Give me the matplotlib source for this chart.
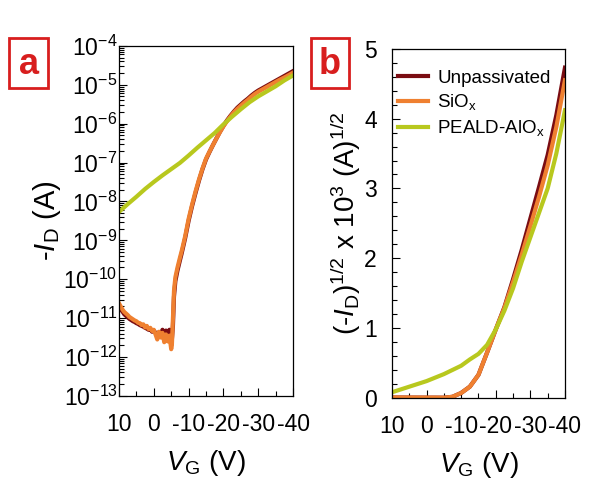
import numpy as np
import matplotlib
matplotlib.use("Agg")
import matplotlib.pyplot as plt
from matplotlib.patches import Rectangle
from matplotlib.ticker import MultipleLocator, LogLocator, NullFormatter

plt.rcParams['font.family'] = ['Liberation Sans', 'DejaVu Sans']
plt.rcParams['mathtext.fontset'] = 'custom'
plt.rcParams['mathtext.rm'] = 'Liberation Sans'
plt.rcParams['mathtext.it'] = 'Liberation Sans:italic'
plt.rcParams['axes.unicode_minus'] = False

# ---- panel a: transfer curves, log10(-I_D) vs V_G ----
vg_aloxa = [10, 7.5, 5, 2.5, 0, -2.5, -5, -7.5, -10, -12.5, -15, -17.5, -20,
            -22.5, -25, -27.5, -30, -32.5, -35, -37.5, -40]
log_alox = [-8.27, -8.07, -7.88, -7.68, -7.50, -7.33, -7.17, -7.01, -6.82, -6.62,
            -6.43, -6.24, -6.02, -5.82, -5.63, -5.45, -5.30, -5.17, -5.04, -4.89, -4.76]

vg_a = [10, 9.5, 9, 8.5, 8, 7.5, 7, 6.5, 6, 5.5, 5, 4.5, 4, 3.5, 3, 2.5, 2, 1.5, 1,
        0.5, 0, -0.5, -1, -1.5, -2, -2.5, -3, -3.5, -4, -4.5, -5, -5.2, -5.5, -5.8,
        -6.2, -6.8, -7.5, -8, -9, -10, -11, -12, -13, -14, -15, -16, -17, -18, -19,
        -20, -21, -22, -23, -24, -25, -26, -27, -28, -29, -30, -32, -34, -36, -38, -40]
log_sio = [-10.62, -10.70, -10.78, -10.84, -10.88, -10.92, -10.97, -11.00, -11.03,
           -11.06, -11.08, -11.12, -11.13, -11.18, -11.16, -11.24, -11.20, -11.28,
           -11.25, -11.33, -11.30, -11.42, -11.55, -11.35, -11.50, -11.38, -11.62,
           -11.42, -11.60, -11.45, -11.80, -11.70, -11.00, -10.30, -9.95, -9.70,
           -9.45, -9.28, -8.90, -8.45, -8.08, -7.74, -7.43, -7.15, -6.90, -6.72,
           -6.55, -6.38, -6.22, -6.07, -5.94, -5.82, -5.71, -5.62, -5.54, -5.46,
           -5.39, -5.31, -5.24, -5.18, -5.08, -4.98, -4.88, -4.79, -4.69]
log_unp = [-10.70, -10.78, -10.83, -10.90, -10.94, -10.98, -11.02, -11.05, -11.08,
           -11.10, -11.13, -11.15, -11.18, -11.20, -11.22, -11.25, -11.27, -11.30,
           -11.28, -11.35, -11.32, -11.38, -11.40, -11.36, -11.42, -11.30, -11.40,
           -11.32, -11.38, -11.30, -11.42, -11.55, -11.20, -10.45, -10.05, -9.78,
           -9.52, -9.34, -8.95, -8.50, -8.12, -7.78, -7.46, -7.17, -6.92, -6.73,
           -6.55, -6.38, -6.21, -6.06, -5.92, -5.80, -5.69, -5.59, -5.51, -5.43,
           -5.36, -5.28, -5.21, -5.15, -5.05, -4.95, -4.85, -4.75, -4.65]

ytick_a = [1e-13, 1e-12, 1e-11, 1e-10, 1e-9, 1e-8, 1e-7, 1e-6, 1e-5, 1e-4]
ytick_a_labels = [r'$10^{-13}$', r'$10^{-12}$', r'$10^{-11}$', r'$10^{-10}$', r'$10^{-9}$',
                  r'$10^{-8}$', r'$10^{-7}$', r'$10^{-6}$', r'$10^{-5}$', r'$10^{-4}$']
xticks = [10, 0, -10, -20, -30, -40]
xtick_labels = ['10', '0', '-10', '-20', '-30', '-40']

# ---- panel b: (-I_D)^1/2 x 10^3 ----
vg_b = [10, 5, 0, -2.5, -5, -7.5, -10, -12.5, -15, -17.5, -20, -22.5, -25, -27.5,
        -30, -32.5, -35, -37.5, -40]
sq_unp = [0.005, 0.004, 0.003, 0.003, 0.002, 0.015, 0.07, 0.16, 0.33, 0.65, 0.98,
          1.30, 1.70, 2.12, 2.57, 3.02, 3.48, 4.05, 4.73]
sq_sio = [0.005, 0.004, 0.003, 0.003, 0.002, 0.015, 0.07, 0.16, 0.33, 0.65, 0.98,
          1.29, 1.66, 2.05, 2.46, 2.88, 3.33, 3.88, 4.55]
vg_b2 = [10, 7.5, 5, 2.5, 0, -2.5, -5, -7.5, -10, -12.5, -15, -17.5, -20, -22.5,
         -25, -27.5, -30, -32.5, -35, -37.5, -40]
sq_alox = [0.08, 0.12, 0.16, 0.20, 0.24, 0.29, 0.34, 0.40, 0.46, 0.55, 0.63, 0.76,
           0.98, 1.25, 1.57, 1.95, 2.30, 2.65, 3.00, 3.50, 4.12]

c_unp = '#7a0c12'
c_sio = '#ef8030'
c_alox = '#b8c81e'
lw = 3

fig = plt.figure(figsize=(5.89, 4.93), dpi=100)
ax1 = fig.add_axes([0.202, 0.197, 0.2955, 0.710])
ax2 = fig.add_axes([0.6655, 0.193, 0.2937, 0.708])

# panel a
ax1.plot(vg_a, 10 ** np.array(log_unp), color=c_unp, lw=lw)
ax1.plot(vg_a, 10 ** np.array(log_sio), color=c_sio, lw=lw)
ax1.plot(vg_aloxa, 10 ** np.array(log_alox), color=c_alox, lw=lw)
ax1.set_yscale('log')
ax1.set_ylim(1e-13, 1e-4)
ax1.set_yticks(ytick_a)
ax1.set_yticklabels(ytick_a_labels)
ax1.yaxis.set_minor_locator(LogLocator(base=10, subs=np.arange(2, 10), numticks=20))
ax1.yaxis.set_minor_formatter(NullFormatter())
ax1.set_ylabel(r'-$I$$_\mathrm{D}$ (A)', fontsize=21, labelpad=0)

# panel b
ax2.plot(vg_b, sq_unp, color=c_unp, lw=lw, label='Unpassivated')
ax2.plot(vg_b, sq_sio, color=c_sio, lw=lw, label=r'SiO$_\mathrm{x}$')
ax2.plot(vg_b2, sq_alox, color=c_alox, lw=lw, label=r'PEALD-AlO$_\mathrm{x}$')
ax2.set_ylim(0, 5)
ax2.set_yticks([0, 1, 2, 3, 4, 5])
ax2.yaxis.set_minor_locator(MultipleLocator(0.2))
ax2.set_ylabel(r'(-$I$$_\mathrm{D}$)$^{1/2}$ x 10$^3$ (A)$^{1/2}$', fontsize=20, labelpad=1)
ax2.legend(loc='upper left', bbox_to_anchor=(0.035, 0.94), frameon=False,
           fontsize=13.5, handlelength=1.6, handletextpad=0.5, labelspacing=0.3,
           borderpad=0, borderaxespad=0)

for ax in (ax1, ax2):
    ax.set_xlim(10, -40)
    ax.set_xticks(xticks)
    ax.set_xticklabels(xtick_labels)
    ax.xaxis.set_minor_locator(MultipleLocator(5))
    ax.set_xlabel(r'$V$$_\mathrm{G}$ (V)', fontsize=20, labelpad=9)
    ax.tick_params(which='both', direction='in', top=False, right=False, labelsize=16.5)
    ax.tick_params(which='major', length=6, width=0.8)
    ax.tick_params(which='minor', length=3.5, width=0.8)
    ax.tick_params(axis='x', pad=12)
    for s in ax.spines.values():
        s.set_linewidth(0.9)
ax1.tick_params(axis='y', pad=1)
ax2.tick_params(axis='y', pad=11)

# panel letters in red boxes
W, H = 589, 493
for (x0, x1, letter) in [(9, 48, 'a'), (311, 349, 'b')]:
    fig.add_artist(Rectangle((x0 / W, 1 - 88 / H), (x1 - x0) / W, 50 / H,
                             transform=fig.transFigure, fill=False,
                             ec='#d81e1e', lw=2))
    fig.text((x0 + x1) / 2 / W, 1 - 64 / H, letter, color='#d81e1e',
             fontsize=26, fontweight='bold', ha='center', va='center')

fig.savefig('out.png', dpi=100)
